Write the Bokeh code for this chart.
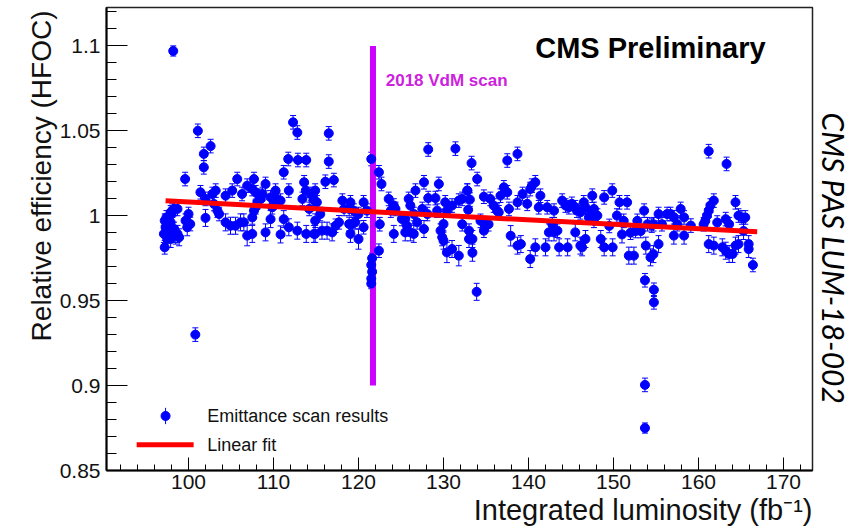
import math
from bokeh.plotting import figure
from bokeh.models import Range1d, FixedTicker, ColumnDataSource, Whisker, TeeHead, Label, Title
from bokeh.embed import file_html
from bokeh.resources import INLINE

# ---- Emittance scan results: integrated luminosity (fb^-1), relative efficiency, stat. error ----
lumi_seg1 = [97.2, 97.1, 97.3, 97.2, 97.6, 97.9, 98.1, 98.3, 98.7, 97.5, 97.9, 98.5, 98.7, 98.1,
             97.7, 98.3, 98.9, 97.5, 97.9, 98.0, 97.4, 98.2, 99.6, 101.1, 101.8, 102.6, 101.8,
             101.4, 102.0, 102.8, 103.2, 100.0, 99.85, 100.2, 99.65, 100.8, 102.0, 103.0, 103.4,
             103.6, 104.36, 104.36, 105.14, 105.73, 104.94, 105.53, 106.12, 106.51, 106.3, 106.9,
             107.5, 107.7, 107.9, 108.3, 108.5, 108.7, 108.1, 107.7, 107.5, 107.9, 106.9, 107.5,
             109.06, 109.65, 110.04, 110.24, 110.43, 110.83, 109.65, 109.85, 109.06, 110.83,
             111.2, 111.8, 111.2, 111.8, 111.73, 112.87, 113.85, 112.3, 112.8, 112.8, 113.85,
             114.75, 113.4, 113.8, 113.6, 114.4, 114.8, 114.2]
eff_seg1 = [0.9814, 0.9893, 0.9932, 0.9971, 0.9990, 1.0020, 1.0030, 1.0040, 1.0040, 0.9951, 0.9961,
            0.9883, 0.9893, 0.9893, 0.9893, 0.9922, 0.9873, 0.9863, 0.9863, 1.0010, 0.9990, 1.0970,
            1.0216, 1.0500, 1.0364, 1.0410, 1.0285, 1.0138, 1.0099, 1.0128, 1.0148, 1.0010, 0.9932,
            0.9951, 0.9971, 0.9300, 0.9987, 1.0069, 1.0030, 1.0010, 1.0118, 0.9961, 1.0148, 1.0216,
            0.9941, 0.9941, 0.9961, 0.9961, 1.0128, 1.0177, 1.0157, 1.0216, 1.0138, 1.0118, 1.0099,
            1.0128, 1.0079, 1.0030, 0.9990, 1.0050, 0.9883, 0.9893, 1.0187, 1.0108, 1.0079, 1.0148,
            1.0099, 1.0089, 0.9980, 1.0050, 0.9902, 0.9890, 1.0256, 1.0148, 0.9980, 0.9932, 1.0334,
            1.0328, 1.0328, 1.0550, 1.0490, 0.9912, 0.9893, 0.9893, 1.0099, 1.0148, 1.0197, 1.0128,
            1.0089, 1.0040]
err_seg1 = [0.004, 0.005, 0.004, 0.004, 0.004, 0.004, 0.004, 0.004, 0.004, 0.004, 0.004, 0.005,
            0.005, 0.005, 0.005, 0.004, 0.005, 0.005, 0.005, 0.004, 0.004, 0.003, 0.004, 0.004,
            0.004, 0.004, 0.004, 0.004, 0.004, 0.004, 0.004, 0.004, 0.005, 0.004, 0.004, 0.004,
            0.005, 0.004, 0.004, 0.004, 0.004, 0.005, 0.004, 0.004, 0.005, 0.005, 0.005, 0.005,
            0.004, 0.004, 0.004, 0.004, 0.004, 0.004, 0.004, 0.004, 0.004, 0.004, 0.004, 0.004,
            0.006, 0.005, 0.004, 0.004, 0.004, 0.004, 0.004, 0.004, 0.005, 0.004, 0.005, 0.005,
            0.004, 0.004, 0.005, 0.005, 0.004, 0.004, 0.004, 0.004, 0.004, 0.005, 0.005, 0.005,
            0.004, 0.004, 0.004, 0.004, 0.004, 0.004]

lumi_seg2 = [116.5, 116.5, 116.1, 117.1, 114.9, 114.7, 115.1, 114.9, 115.5, 114.9, 115.7, 116.3,
             116.9, 117.3, 117.7, 118.1, 119.05, 118.3, 118.9, 119.45, 120.6, 120.0, 118.9, 119.25,
             119.6, 119.05, 120.0, 120.6, 121.0, 121.5, 122.4, 122.7, 121.5, 121.5, 121.6, 121.5,
             121.6, 122.4, 122.5, 123.55, 124.15, 123.8, 124.35, 124.15, 125.1, 125.5, 125.9,
             126.7, 126.1, 125.7, 126.1, 126.5, 125.5, 126.9, 126.5, 127.7, 128.2, 127.5, 127.7,
             128.1, 128.2, 129.45, 129.05, 129.25, 130.0, 130.2, 130.4, 129.65, 129.85, 130.0,
             130.4, 131.0, 131.8, 131.4, 131.0, 131.8, 132.2, 132.8, 133.1, 132.9, 133.3, 132.2,
             133.4]
eff_seg2 = [1.0485, 1.0319, 1.0200, 1.0210, 1.0148, 1.0099, 1.0079, 0.9971, 1.0010, 0.9893, 0.9912,
            0.9912, 0.9902, 0.9941, 0.9961, 1.0089, 1.0079, 1.0040, 1.0040, 1.0030, 1.0079, 1.0010,
            0.9951, 0.9951, 0.9961, 0.9893, 0.9863, 0.9932, 1.0030, 1.0334, 1.0256, 1.0187, 0.9600,
            0.9630, 0.9670, 0.9710, 0.9750, 0.9794, 0.9950, 1.0099, 1.0060, 1.0030, 1.0040, 0.9893,
            0.9981, 0.9981, 1.0099, 1.0148, 1.0060, 0.9941, 0.9902, 0.9893, 0.9902, 0.9961, 1.0010,
            1.0197, 1.0104, 1.0040, 0.9922, 1.0010, 1.0390, 1.0187, 1.0104, 1.0030, 0.9951, 1.0079,
            1.0030, 0.9912, 0.9873, 0.9853, 0.9784, 0.9804, 0.9765, 1.0395, 1.0060, 1.0089, 1.0099,
            1.0148, 1.0095, 1.0035, 1.0310, 0.9950, 0.9782]
err_seg2 = [0.004, 0.004, 0.004, 0.004, 0.004, 0.004, 0.004, 0.004, 0.004, 0.005, 0.005, 0.005,
            0.005, 0.004, 0.004, 0.004, 0.004, 0.004, 0.004, 0.004, 0.004, 0.004, 0.004, 0.004,
            0.004, 0.005, 0.006, 0.004, 0.004, 0.004, 0.004, 0.004, 0.003, 0.003, 0.003, 0.003,
            0.003, 0.004, 0.004, 0.004, 0.004, 0.004, 0.004, 0.005, 0.004, 0.004, 0.004, 0.004,
            0.004, 0.004, 0.005, 0.005, 0.005, 0.004, 0.004, 0.004, 0.004, 0.004, 0.005, 0.004,
            0.004, 0.004, 0.004, 0.004, 0.004, 0.004, 0.004, 0.004, 0.005, 0.005, 0.006, 0.005,
            0.006, 0.004, 0.004, 0.004, 0.004, 0.004, 0.004, 0.004, 0.004, 0.004, 0.005]

lumi_seg3 = [133.96, 132.8, 133.0, 133.0, 133.4, 134.35, 134.94, 135.3, 134.75, 134.75, 135.5, 135.9,
             136.3, 136.5, 136.7, 137.1, 137.5, 137.7, 138.7, 139.3, 139.85, 137.5, 138.7, 140.2,
             140.8, 140.4, 141.4, 141.2, 137.9, 138.7, 139.1, 140.2, 140.8, 142.0, 142.2, 143.0,
             142.8, 142.4, 143.0, 143.4, 143.6, 144.6, 143.96, 144.35, 144.75, 145.1, 145.5, 145.7,
             146.1, 146.5, 146.7, 147.5, 147.7, 147.3, 148.1, 147.7, 147.1, 145.5, 146.1, 146.7,
             146.3, 148.5, 148.9, 149.9, 149.5, 148.9, 149.85, 150.7, 150.4, 151.2, 151.0, 133.9]
eff_seg3 = [1.0216, 1.0148, 0.9912, 0.9863, 0.9863, 0.9970, 0.9950, 0.9950, 0.9912, 1.0112, 1.0099,
            1.0060, 1.0030, 1.0020, 1.0118, 1.0167, 1.0138, 1.0040, 1.0079, 1.0128, 1.0070, 1.0325,
            1.0364, 1.0157, 1.0197, 1.0177, 1.0118, 1.0050, 0.9882, 0.9824, 0.9833, 0.9745, 0.9814,
            0.9814, 1.0050, 1.0030, 0.9950, 0.9902, 0.9902, 0.9912, 0.9814, 0.9814, 1.0089, 1.0060,
            1.0050, 1.0070, 1.0050, 1.0030, 1.0020, 1.0079, 1.0050, 1.0118, 1.0040, 1.0010, 1.0001,
            0.9970, 0.9990, 0.9902, 0.9824, 0.9863, 0.9814, 0.9863, 0.9814, 0.9814, 0.9940, 1.0108,
            1.0148, 1.0079, 1.0001, 0.9970, 0.9890, 0.9552]
err_seg3 = [0.004, 0.004, 0.004, 0.005, 0.005, 0.004, 0.004, 0.004, 0.004, 0.004, 0.004, 0.004,
            0.004, 0.004, 0.004, 0.004, 0.004, 0.004, 0.004, 0.004, 0.004, 0.004, 0.004, 0.004,
            0.004, 0.004, 0.004, 0.004, 0.006, 0.005, 0.005, 0.005, 0.005, 0.005, 0.004, 0.004,
            0.004, 0.005, 0.005, 0.004, 0.005, 0.005, 0.004, 0.004, 0.004, 0.004, 0.004, 0.004,
            0.004, 0.004, 0.004, 0.004, 0.004, 0.004, 0.004, 0.004, 0.004, 0.005, 0.005, 0.005,
            0.005, 0.005, 0.005, 0.005, 0.004, 0.004, 0.004, 0.004, 0.004, 0.004, 0.005, 0.005]

lumi_seg4 = [151.6, 152.0, 152.6, 152.8, 153.2, 153.6, 154.0, 153.8, 154.5, 154.7, 155.3, 155.3,
             155.7, 156.3, 156.7, 157.1, 157.5, 157.1, 158.3, 157.9, 158.3, 159.1, 151.8, 152.4,
             154.35, 154.7, 153.7, 154.75, 154.75, 153.7, 153.7, 160.6, 160.8, 161.2, 161.4, 161.8,
             161.0, 162.2, 163.2, 163.6, 164.35, 164.7, 165.1, 165.5, 165.3, 161.2, 161.8, 162.8,
             163.2, 163.6, 164.0, 164.35, 164.7, 165.9, 165.9, 166.4, 161.2, 163.3]
eff_seg4 = [1.0079, 0.9900, 0.9910, 0.9970, 0.9910, 1.0030, 0.9950, 0.9824, 0.9942, 0.9950, 1.0010,
            0.9833, 0.9950, 1.0010, 1.0010, 0.9991, 0.9950, 0.9883, 0.9883, 1.0040, 0.9990, 0.9942,
            0.9765, 0.9765, 0.9755, 0.9774, 0.9620, 0.9564, 0.9490, 0.9004, 0.8750, 0.9950, 0.9970,
            1.0030, 1.0060, 1.0089, 1.0001, 0.9960, 0.9980, 0.9950, 1.0079, 1.0001, 0.9990, 0.9990,
            0.9910, 0.9833, 0.9824, 0.9814, 0.9794, 0.9775, 0.9775, 0.9824, 0.9833, 0.9833, 0.9804,
            0.9710, 1.0380, 1.0305]
err_seg4 = [0.004, 0.004, 0.004, 0.004, 0.004, 0.004, 0.004, 0.005, 0.004, 0.004, 0.004, 0.005,
            0.004, 0.004, 0.004, 0.004, 0.004, 0.005, 0.005, 0.004, 0.004, 0.004, 0.005, 0.005,
            0.005, 0.005, 0.004, 0.004, 0.004, 0.004, 0.003, 0.004, 0.004, 0.004, 0.004, 0.004,
            0.004, 0.004, 0.004, 0.004, 0.004, 0.004, 0.004, 0.004, 0.005, 0.005, 0.005, 0.005,
            0.005, 0.005, 0.005, 0.005, 0.005, 0.005, 0.005, 0.004, 0.004, 0.004]

lumi = lumi_seg1 + lumi_seg2 + lumi_seg3 + lumi_seg4
eff = eff_seg1 + eff_seg2 + eff_seg3 + eff_seg4
err = err_seg1 + err_seg2 + err_seg3 + err_seg4

# Linear fit, evaluated at the ends of the data range
fit_lumi = [97.3, 166.9]
fit_eff = [1.0088, 0.9905]

# Position of the 2018 van der Meer scan
vdm_lumi = 121.7
vdm_span = [0.90, 1.10]

# Axis ticks
x_major = [100, 110, 120, 130, 140, 150, 160, 170]
x_minor = [92, 94, 96, 98, 102, 104, 106, 108, 112, 114, 116, 118, 122, 124, 126, 128, 132, 134,
           136, 138, 142, 144, 146, 148, 152, 154, 156, 158, 162, 164, 166, 168, 172]
y_major = [0.85, 0.90, 0.95, 1.00, 1.05, 1.10]
y_major_labels = ["0.85", "0.9", "0.95", "1", "1.05", "1.1"]
y_minor = [0.86, 0.87, 0.88, 0.89, 0.91, 0.92, 0.93, 0.94, 0.96, 0.97, 0.98, 0.99,
           1.01, 1.02, 1.03, 1.04, 1.06, 1.07, 1.08, 1.09, 1.11, 1.12]

FONT = "Liberation Sans"
BLUE = "#0000ff"

p = figure(width=856, height=526, output_backend="svg", toolbar_location=None,
           x_range=Range1d(90.35, 173.41), y_range=Range1d(0.85, 1.1226),
           min_border_left=106, min_border_right=44, min_border_top=7, min_border_bottom=56)
p.xgrid.visible = False
p.ygrid.visible = False
p.outline_line_color = "#222222"
p.outline_line_width = 1.5
p.background_fill_color = "white"
p.border_fill_color = "white"

for ax in (p.xaxis[0], p.yaxis[0]):
    ax.axis_line_color = "black"
    ax.axis_line_width = 2
    ax.major_tick_line_color = "black"
    ax.minor_tick_line_color = "black"
    ax.major_tick_line_width = 1
    ax.minor_tick_line_width = 1
    ax.major_tick_out = 0
    ax.minor_tick_out = 0
    ax.major_label_text_font = FONT
    ax.major_label_text_font_size = "21px"
    ax.major_label_text_color = "#111111"

p.xaxis.ticker = FixedTicker(ticks=x_major, minor_ticks=x_minor)
p.xaxis.major_tick_in = 13
p.xaxis.minor_tick_in = 6
p.xaxis.major_label_standoff = 4

p.yaxis.ticker = FixedTicker(ticks=y_major, minor_ticks=y_minor)
p.yaxis.major_label_overrides = {v: s for v, s in zip(y_major, y_major_labels)}
p.yaxis.major_tick_in = 21
p.yaxis.minor_tick_in = 10
p.yaxis.major_label_standoff = 6

# Axis titles, aligned to the far ends of the axes
p.add_layout(Title(text="Relative efficiency (HFOC)", align="right", offset=3, standoff=0,
                   text_font=FONT, text_font_size="28px", text_font_style="normal",
                   text_color="#111111"), "left")
p.add_layout(Title(text="Integrated luminosity (fb\u207b\u00b9)", align="right", offset=0,
                   standoff=0, text_font=FONT, text_font_size="29px",
                   text_font_style="normal", text_color="#111111"), "below")

# Document reference on the right margin
p.add_layout(Title(text="CMS PAS LUM-18-002", align="left", offset=105, standoff=6,
                   text_font="Lato", text_font_size="30px", text_font_style="italic",
                   text_color="black"), "right")

# VdM scan marker
p.segment(x0=[vdm_lumi], y0=[vdm_span[0]], x1=[vdm_lumi], y1=[vdm_span[1]],
          line_width=6, line_color="#cc00ff")

# Data points with error bars
src = ColumnDataSource(dict(
    x=lumi, y=eff,
    lo=[e - s for e, s in zip(eff, err)],
    hi=[e + s for e, s in zip(eff, err)],
))
whisk = Whisker(base="x", lower="lo", upper="hi", source=src, dimension="height",
                line_color=BLUE, line_width=1,
                upper_head=TeeHead(size=6, line_color=BLUE, line_width=1),
                lower_head=TeeHead(size=6, line_color=BLUE, line_width=1))
p.add_layout(whisk)
p.scatter("x", "y", source=src, size=9, fill_color=BLUE, line_color=BLUE)

# Linear fit
p.line(fit_lumi, fit_eff, line_width=5, line_color="#ff0000")

# Legend, drawn by hand in the lower-left corner
leg_src = ColumnDataSource(dict(x=[97.3], y=[0.8821], lo=[0.8821 - 0.0045], hi=[0.8821 + 0.0045]))
p.add_layout(Whisker(base="x", lower="lo", upper="hi", source=leg_src, dimension="height",
                     line_color=BLUE, line_width=1,
                     upper_head=TeeHead(size=1, line_color=BLUE, line_width=1),
                     lower_head=TeeHead(size=1, line_color=BLUE, line_width=1)))
p.scatter("x", "y", source=leg_src, size=9, fill_color=BLUE, line_color=BLUE)
p.line([93.9, 100.6], [0.8651, 0.8651], line_width=5, line_color="#ff0000")
p.add_layout(Label(x=102.2, y=0.8821, text="Emittance scan results", text_font=FONT,
                   text_font_size="18px", text_baseline="middle", text_color="#111111"))
p.add_layout(Label(x=102.2, y=0.8651, text="Linear fit", text_font=FONT,
                   text_font_size="18px", text_baseline="middle", text_color="#111111"))

# Annotations inside the frame
p.add_layout(Label(x=167.9, y=1.099, text="CMS Preliminary", text_font=FONT,
                   text_font_size="29px", text_font_style="bold", text_align="right",
                   text_baseline="alphabetic", text_color="black"))
p.add_layout(Label(x=123.2, y=1.0796, text="2018 VdM scan", text_font=FONT,
                   text_font_size="17px", text_font_style="bold", text_align="left",
                   text_baseline="alphabetic", text_color="#cc22dd"))

open("out.html", "w").write(file_html(p, INLINE))
